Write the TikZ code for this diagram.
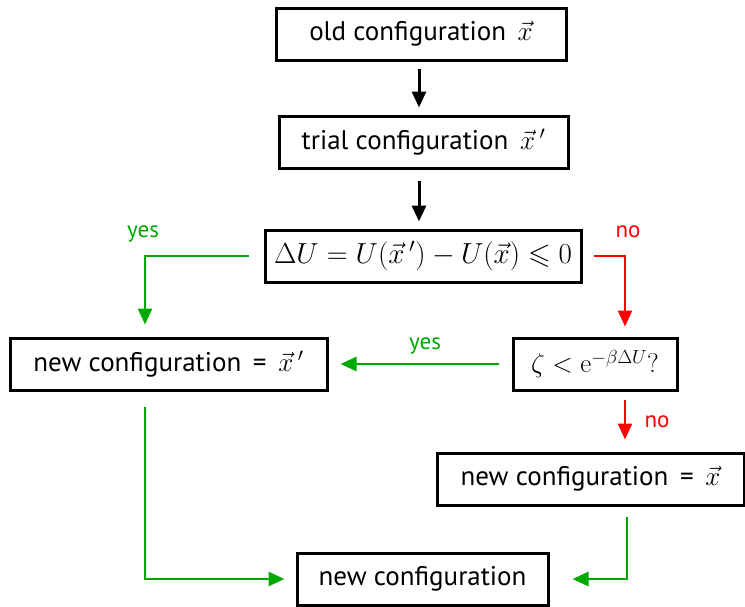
\documentclass[tikz,border=0pt]{standalone}
\usepackage{fix-cm}
\usepackage{amssymb}
\usepackage[no-math]{fontspec}
\setmainfont{PT Sans}
\usetikzlibrary{arrows.meta,calc}
\definecolor{ygreen}{RGB}{0,170,0}
\definecolor{nred}{RGB}{255,0,0}
\begin{document}
\begin{tikzpicture}[x=1pt,y=-1pt,
  box/.style={draw=black,line width=3pt,minimum height=52pt,inner sep=0pt,font=\fontsize{27}{30}\selectfont,anchor=center},
  arr/.style={line width=2.6pt,-{Triangle[length=16pt,width=14pt]}},
  lab/.style={font=\fontsize{23}{26}\selectfont}]
\useasboundingbox (0,0) rectangle (745,606);
\node[box,minimum width=290pt] (a) at (421,34) {old configuration\, $\vec{x}$};
\node[box,minimum width=289pt] (b) at (423.5,142) {trial configuration\, $\vec{x}\,'$};
\node[box,minimum width=316pt,font=\fontsize{29}{32}\selectfont] (c) at (423,256) {$\Delta U = U(\vec{x}\,') - U(\vec{x}) \leqslant 0$};
\node[box,minimum width=317pt] (d) at (168.5,364) {new configuration \,=\, $\vec{x}\,'$};
\node[box,minimum width=164pt] (e) at (595,364) {$\zeta < \mathrm{e}^{-\beta\Delta U}?$};
\node[box,minimum width=307pt] (f) at (590.5,479) {new configuration \,=\, $\vec{x}$};
\node[box,minimum width=251pt] (g) at (422.5,579) {new configuration};
\draw[arr,line width=3pt,shorten <=7pt,shorten >=7pt] ([xshift=-2pt]a.south) -- ([xshift=-4.5pt]b.north);
\draw[arr,line width=3pt,shorten <=11pt,shorten >=7pt] ([xshift=-4.5pt]b.south) -- ([xshift=-4pt]c.north);
\draw[arr,ygreen,shorten <=15pt,shorten >=12pt] (c.west) -| ([xshift=-23.5pt]d.north);
\draw[arr,nred,shorten <=11pt,shorten >=10pt] (c.east) -| ([xshift=30pt]e.north);
\draw[arr,ygreen,shorten <=13pt,shorten >=12pt] (e.west) -- (d.east);
\draw[arr,nred,shorten <=8pt,shorten >=12pt] ([xshift=30pt]e.south) -- ([xshift=34.5pt]f.north);
\draw[arr,ygreen,shorten <=15pt,shorten >=11pt] ([xshift=-23.5pt]d.south) |- (g.west);
\draw[arr,ygreen,shorten <=10pt,shorten >=23pt] ([xshift=36.5pt]f.south) |- (g.east);
\node[lab,text=ygreen] (y1) at (143,234) {yes};
\node[lab,text=nred] (n1) at (628,232) {no};
\node[lab,text=ygreen] (y2) at (425,346) {yes};
\node[lab,text=nred] (n2) at (657,422) {no};
\end{tikzpicture}
\end{document}
